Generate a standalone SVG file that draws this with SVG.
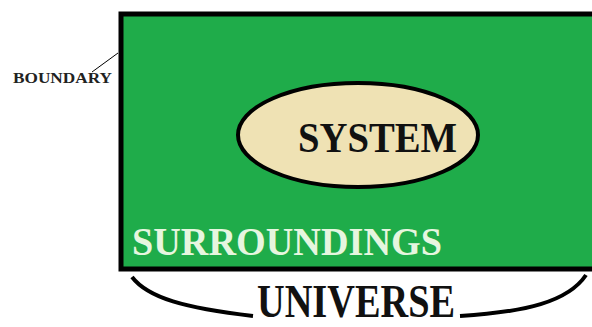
<svg xmlns="http://www.w3.org/2000/svg" width="592" height="327" viewBox="0 0 592 327">
<style>
.t{font-family:"Liberation Serif","Times New Roman",serif;font-weight:bold}
</style>
<rect width="592" height="327" fill="#ffffff"/>
<g id="surroundings">
<rect x="121" y="14" width="480" height="255" fill="#1fac4a" stroke="#000" stroke-width="5"/>
<text class="t" x="132" y="255" font-size="40" fill="#e6f6df" textLength="310" lengthAdjust="spacingAndGlyphs">SURROUNDINGS</text>
</g>
<g id="system">
<ellipse cx="358" cy="135" rx="120" ry="52" fill="#efe2b4" stroke="#000" stroke-width="4"/>
<text class="t" x="298" y="152" font-size="42" fill="#111" textLength="159" lengthAdjust="spacingAndGlyphs">SYSTEM</text>
</g>
<g id="boundary">
<text class="t" x="13" y="83" font-size="15" fill="#222" textLength="99" lengthAdjust="spacingAndGlyphs">BOUNDARY</text>
</g>
<g id="universe">
<text class="t" x="257" y="317" font-size="46" fill="#111" textLength="198" lengthAdjust="spacingAndGlyphs">UNIVERSE</text>
</g>
<g id="connectors" fill="none" stroke="#000">
<line x1="92" y1="72" x2="118" y2="53" stroke-width="1"/>
<path d="M132 277 C148 298 185 308 253 316" stroke-width="4"/>
<path d="M460 316 C525 312 568 302 586 275" stroke-width="4"/>
</g>
</svg>
